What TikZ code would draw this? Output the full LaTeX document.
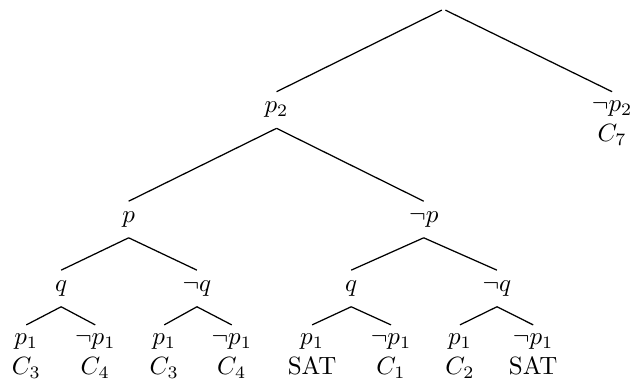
\documentclass[tikz,border=0pt]{standalone}
\usepackage{amssymb}

\begin{document}
\begin{tikzpicture}[
  lit/.style={anchor=north, inner ysep=4pt},
  leaf/.style={anchor=north, align=center},
  branch/.style={draw, line width=0.5pt}
]
% fixed frame so the margins stay as in the original
\useasboundingbox (0,0) rectangle (8.89,-5.39);

% Row y-positions (top of each node)
\def\rRoot{-0.13}
\def\rOne{-1.29}
\def\rTwo{-2.83}
\def\rThree{-3.80}
\def\rLeaf{-4.57}

% Root and first split on p_2
\node[inner sep=0pt] (root) at (6.24,\rRoot) {};
\node[lit] (p2) at (3.89,\rOne) {$p_2$};
\node[leaf] (np2) at (8.61,\rOne) {$\neg p_2$\\$C_7$};

% Second split on p
\node[lit] (p) at (1.81,\rTwo) {$p$};
\node[lit] (np) at (5.96,\rTwo) {$\neg p$};

% Third split on q
\node[lit] (pq) at (0.86,\rThree) {$q$};
\node[lit] (pnq) at (2.77,\rThree) {$\neg q$};
\node[lit] (npq) at (4.94,\rThree) {$q$};
\node[lit] (npnq) at (6.99,\rThree) {$\neg q$};

% Leaves: split on p_1, with the clause that fails
\node[leaf] (l1) at (0.37,\rLeaf) {$p_1$\\$C_3$};
\node[leaf] (l2) at (1.34,\rLeaf) {$\neg p_1$\\$C_4$};
\node[leaf] (l3) at (2.31,\rLeaf) {$p_1$\\$C_3$};
\node[leaf] (l4) at (3.26,\rLeaf) {$\neg p_1$\\$C_4$};
\node[leaf] (l5) at (4.39,\rLeaf) {$p_1$\\SAT};
\node[leaf] (l6) at (5.50,\rLeaf) {$\neg p_1$\\$C_1$};
\node[leaf] (l7) at (6.47,\rLeaf) {$p_1$\\$C_2$};
\node[leaf] (l8) at (7.50,\rLeaf) {$\neg p_1$\\SAT};

% Branches
\path[branch] (root) -- (p2.north);
\path[branch] (root) -- (np2.north);
\path[branch] (p2.south) -- (p.north);
\path[branch] (p2.south) -- (np.north);
\path[branch] (p.south) -- (pq.north);
\path[branch] (p.south) -- (pnq.north);
\path[branch] (np.south) -- (npq.north);
\path[branch] (np.south) -- (npnq.north);
\path[branch] (pq.south) -- (l1.north);
\path[branch] (pq.south) -- (l2.north);
\path[branch] (pnq.south) -- (l3.north);
\path[branch] (pnq.south) -- (l4.north);
\path[branch] (npq.south) -- (l5.north);
\path[branch] (npq.south) -- (l6.north);
\path[branch] (npnq.south) -- (l7.north);
\path[branch] (npnq.south) -- (l8.north);
\end{tikzpicture}
\end{document}
